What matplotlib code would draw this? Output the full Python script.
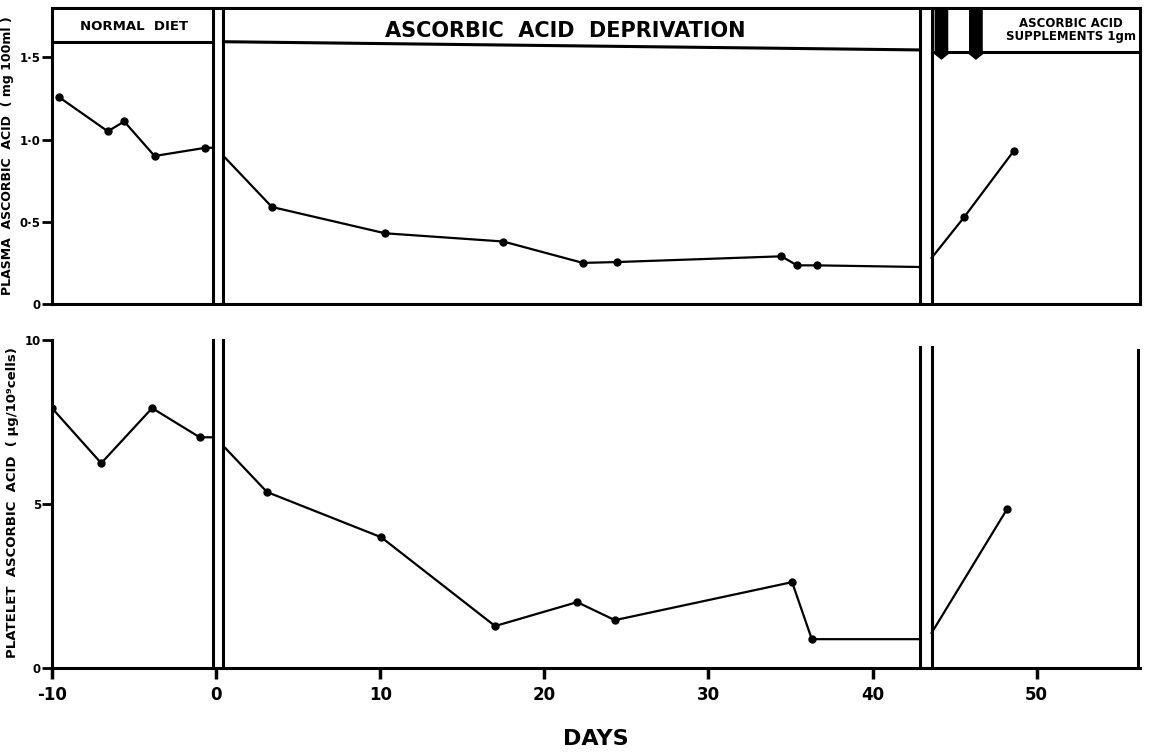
import matplotlib.pyplot as plt
from matplotlib.patches import FancyArrow

# --------------------------------------------------------------
# Data
# --------------------------------------------------------------
days_ticks = [-10, 0, 10, 20, 30, 40, 50]

# phase boundaries (double lines) in days
break_diet = [-0.2, 0.45]
break_suppl = [42.9, 43.6]
supplement_days = [44.2, 46.3]

# plasma ascorbic acid (mg/100ml)
plasma_normal_day = [-9.6, -6.6, -5.6, -3.75, -0.65, -0.2]
plasma_normal_val = [1.26, 1.05, 1.11, 0.90, 0.95, 0.95]
plasma_depriv_day = [0.45, 3.4, 10.3, 17.5, 22.35, 24.4, 34.45, 35.4, 36.6, 42.9]
plasma_depriv_val = [0.90, 0.59, 0.43, 0.38, 0.25, 0.255, 0.29, 0.235, 0.235, 0.225]
plasma_suppl_day = [43.6, 45.6, 48.6]
plasma_suppl_val = [0.28, 0.53, 0.93]

# platelet ascorbic acid (ug/10^9 cells)
platelet_normal_day = [-10.0, -7.0, -3.9, -1.0, -0.2]
platelet_normal_val = [7.93, 6.25, 7.93, 7.04, 7.04]
platelet_depriv_day = [0.45, 3.1, 10.06, 17.0, 22.0, 24.3, 35.1, 36.3, 42.9]
platelet_depriv_val = [6.77, 5.37, 3.99, 1.28, 2.01, 1.46, 2.62, 0.88, 0.88]
platelet_suppl_day = [43.6, 48.2]
platelet_suppl_val = [1.07, 4.85]

plt.rcParams["font.family"] = ["DejaVu Sans"]
plt.rcParams["font.weight"] = "bold"

LW_AX = 2.2
LW_DATA = 1.6
XMIN, XMAX = -10, 56.3

fig = plt.figure(figsize=(11.55, 7.55), dpi=100)

W, H = 1155, 755
left = 52 / W
width = (1140 - 52) / W

ax1 = fig.add_axes([left, 1 - 304 / H, width, 296 / H])
ax2 = fig.add_axes([left, 1 - 668 / H, width, 331 / H])


def draw_series(ax, segments):
    for d, v in segments:
        ax.plot(d, v, color="black", lw=LW_DATA, solid_joinstyle="miter", zorder=3)


def draw_markers(ax, d, v):
    ax.plot(d, v, "o", color="black", ms=5, zorder=4)


# --------------------------------------------------------------
# Top panel: plasma
# --------------------------------------------------------------
ax1.set_xlim(XMIN, XMAX)
ax1.set_ylim(0, 1.8)
for s in ax1.spines.values():
    s.set_linewidth(LW_AX)

draw_series(ax1, [(plasma_normal_day, plasma_normal_val),
                  (plasma_depriv_day, plasma_depriv_val),
                  (plasma_suppl_day, plasma_suppl_val)])
draw_markers(ax1, plasma_normal_day[:-1], plasma_normal_val[:-1])
draw_markers(ax1, plasma_depriv_day[1:-1], plasma_depriv_val[1:-1])
draw_markers(ax1, plasma_suppl_day[1:], plasma_suppl_val[1:])

for x in break_diet + break_suppl:
    ax1.axvline(x, color="black", lw=LW_AX)

# header band
ax1.plot([XMIN, break_diet[0]], [1.595, 1.595], color="black", lw=LW_AX)
ax1.plot([break_diet[1], break_suppl[0]], [1.595, 1.545], color="black", lw=LW_AX)
ax1.plot([break_suppl[1], XMAX], [1.53, 1.53], color="black", lw=LW_AX)

ax1.text(-5.0, 1.685, "NORMAL  DIET", ha="center", va="center", fontsize=9.5,
         fontweight="bold")
ax1.text(21.3, 1.66, "ASCORBIC  ACID  DEPRIVATION", ha="center", va="center",
         fontsize=15, fontweight="bold")
ax1.text(56.05, 1.665, "ASCORBIC ACID\nSUPPLEMENTS 1gm", ha="right", va="center",
         fontsize=8.5, fontweight="bold", linespacing=0.95, multialignment="center")

for d in supplement_days:
    ax1.add_patch(FancyArrow(d, 1.8, 0, -0.31, width=0.75, head_width=1.0,
                             head_length=0.04, length_includes_head=True,
                             color="black", zorder=5, clip_on=False))

ax1.set_xticks([])
ax1.set_yticks([0, 0.5, 1.0, 1.5])
ax1.set_yticklabels(["0", "0·5", "1·0", "1·5"], fontsize=8.5, fontweight="bold")
ax1.tick_params(axis="y", direction="out", length=7, width=2, pad=1)
ax1.set_ylabel("PLASMA  ASCORBIC  ACID  ( mg 100ml )", fontsize=9,
               fontweight="bold", labelpad=4)

# --------------------------------------------------------------
# Bottom panel: platelet
# --------------------------------------------------------------
ax2.set_xlim(XMIN, XMAX)
ax2.set_ylim(0, 10.1)
ax2.spines["top"].set_visible(False)
ax2.spines["right"].set_visible(False)
ax2.spines["left"].set_linewidth(LW_AX)
ax2.spines["bottom"].set_linewidth(LW_AX)
ax2.spines["left"].set_bounds(0, 10)

draw_series(ax2, [(platelet_normal_day, platelet_normal_val),
                  (platelet_depriv_day, platelet_depriv_val),
                  (platelet_suppl_day, platelet_suppl_val)])
draw_markers(ax2, platelet_normal_day[:-1], platelet_normal_val[:-1])
draw_markers(ax2, platelet_depriv_day[1:-1], platelet_depriv_val[1:-1])
draw_markers(ax2, platelet_suppl_day[1:], platelet_suppl_val[1:])

for x in break_diet:
    ax2.plot([x, x], [0, 10], color="black", lw=LW_AX)
for x in break_suppl:
    ax2.plot([x, x], [0, 9.8], color="black", lw=LW_AX)
ax2.plot([XMAX - 0.1, XMAX - 0.1], [0, 9.7], color="black", lw=LW_AX)

ax2.set_xticks(days_ticks)
ax2.set_xticklabels([str(t) for t in days_ticks], fontsize=12, fontweight="bold")
ax2.tick_params(axis="x", direction="out", length=8, width=2.5, pad=5)
ax2.set_yticks([0, 5, 10])
ax2.set_yticklabels(["0", "5", "10"], fontsize=8.5, fontweight="bold")
ax2.tick_params(axis="y", direction="out", length=7, width=2, pad=1)
ax2.set_ylabel("PLATELET  ASCORBIC  ACID  ( \u03bcg/10\u2079cells)", fontsize=9.5,
               fontweight="bold", labelpad=4)
ax2.set_xlabel("DAYS", fontsize=16, fontweight="bold", labelpad=18)

fig.savefig("out.png", dpi=100, facecolor="white")
